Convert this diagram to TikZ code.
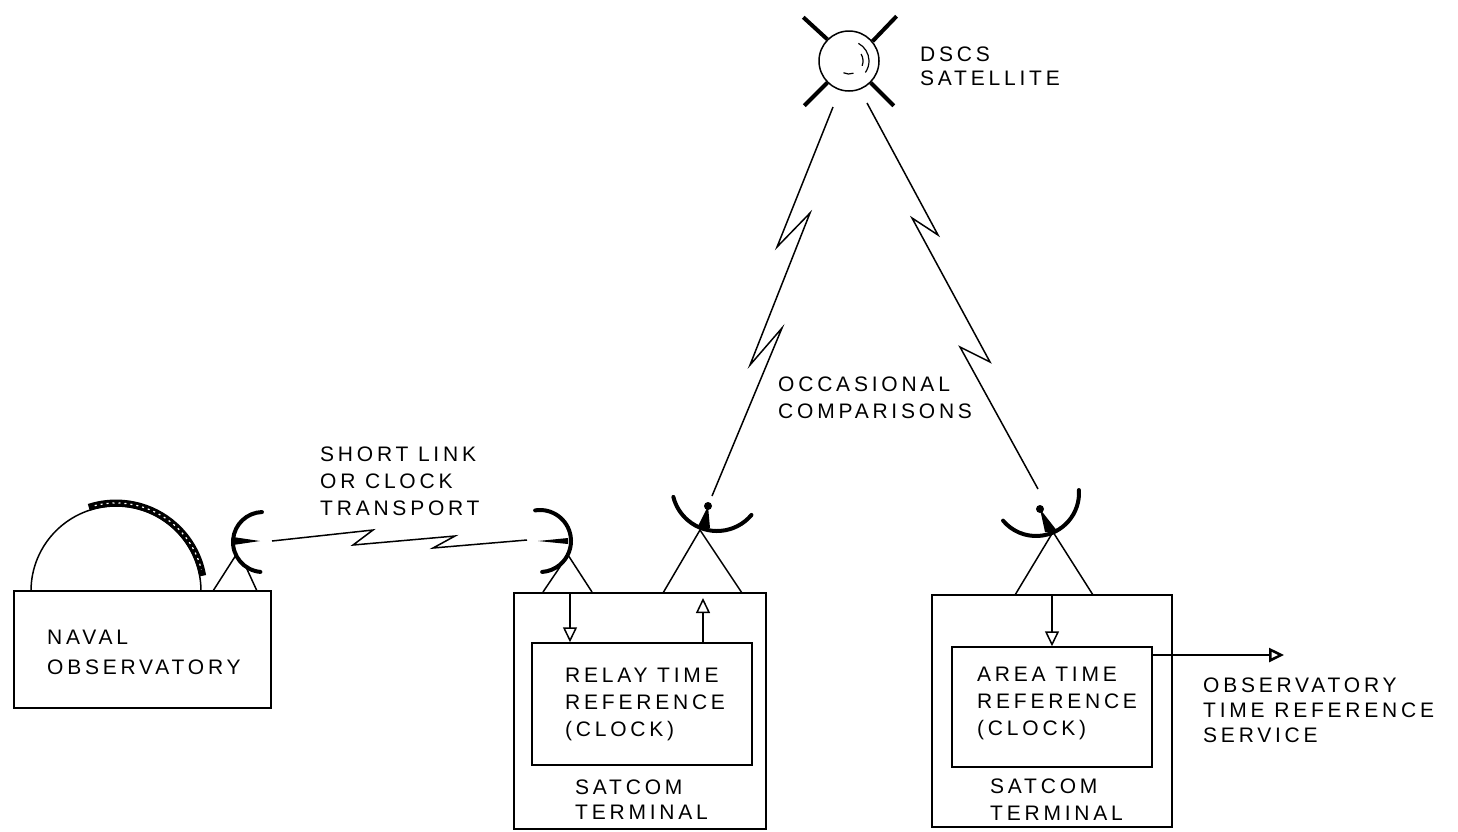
\documentclass[tikz,border=0pt]{standalone}
\usepackage{fontspec}
\newfontfamily\lettering[LetterSpace=18]{Liberation Sans}
\usetikzlibrary{arrows.meta,positioning,calc}
\tikzset{
  box/.style={draw, line width=1.5pt, inner sep=0pt},
  lbl/.style={font=\lettering\fontsize{21}{27}\selectfont, align=left, anchor=north west, inner sep=0pt},
  dish/.style={line width=4pt, line cap=round},
  leg/.style={line width=1.5pt},
  arm/.style={line width=4pt},
  beam/.style={line width=1.5pt, line join=miter},
  sig/.style={line width=1.5pt, -{Triangle[open,length=15pt,width=14pt]}},
}

\begin{document}
\begin{tikzpicture}[x=1pt, y=-1pt]
    \useasboundingbox (0,0) rectangle (1458,831);

    % boxes
    \node[box, minimum width=257, minimum height=117] (naval) at (142.5,649.5) {};
    \node[box, minimum width=252, minimum height=236] (relay) at (640,711) {};
    \node[box, minimum width=220, minimum height=122] (relayclk) at (642,704) {};
    \node[box, minimum width=240, minimum height=232] (area) at (1052,711) {};
    \node[box, minimum width=200, minimum height=120] (areaclk) at (1052,707) {};

    % satellite
    \node[draw, circle, line width=1.5pt, minimum size=60, inner sep=0pt] (sat) at (849,61) {};
    \draw[line width=1.2pt] (849,61) ++(-62:20) arc(-62:35:20);
    \draw[line width=1.2pt] (849,61) ++(-30:14) arc(-30:20:14);
    \draw[line width=1.2pt] (849,61) ++(70:13) arc(70:115:13);
    \draw[arm] (sat.135) -- ++(-24,-22);
    \draw[arm] (sat.40) -- ++(24,-25);
    \draw[arm] (sat.225) -- ++(-23,23);
    \draw[arm] (sat.315) -- ++(23,23);

    % observatory dome
    \draw[leg] (31,591) arc(180:360:85);
    \draw[line width=7pt] (116,591) ++(252:88) arc(252:350:88);
    \draw[white, line width=1.2pt, dash pattern=on 2pt off 4pt] (116,591) ++(256:88) arc(256:346:88);

    % antennas
    \coordinate (navfeed) at (260,541);
    \draw[dish] (263,542) ++(95:30) arc(95:268:30);
    \fill (navfeed) -- (233,537) -- (233,545) -- cycle;
    \draw[leg] (213,591) -- (236,555);
    \draw[leg] (257,591) -- (246,567);

    \coordinate (linkfeed) at (538,541);
    \draw[dish] (540,541) ++(-99:31) arc(-99:86:31);
    \fill (linkfeed) -- (568,538) -- (568,544) -- cycle;
    \draw[leg] (543,592) -- (568,555) -- (592,592);

    \coordinate (relayfeed) at (708,506);
    \draw[dish] (717,486) ++(40:45) arc(40:166:45);
    \fill (relayfeed) circle (4);
    \fill (relayfeed) -- (697,528) -- (710,528) -- cycle;
    \draw[leg] (663,593) -- (700,530) -- (742,593);

    \coordinate (areafeed) at (1040,509);
    \draw[dish] (1036,493) ++(-4:43) arc(-4:140:43);
    \fill (areafeed) circle (4);
    \fill (areafeed) -- (1045,532) -- (1058,532) -- cycle;
    \draw[leg] (1015,595) -- (1053,532) -- (1093,595);

    % radio links
    \coordinate (upL) at (833,107);
    \coordinate (upR) at (867,103);
    \draw[beam] (upL) -- (777,247) -- (810,213) -- (750,365) -- (782,328) -- ($(relayfeed)+(4,-10)$);
    \draw[beam] (upR) -- (938,235) -- (912,218) -- (990,362) -- (960,347) -- ($(areafeed)+(-2,-20)$);
    \draw[beam] ($(navfeed)+(12,0)$) -- (373,530) -- (353,545) -- (455,536) -- (433,548) -- ($(linkfeed)+(-11,-1)$);

    % signal paths
    \coordinate (rdn) at (570,593);
    \coordinate (rup) at (703,598);
    \coordinate (adn) at (1052,595);
    \coordinate (svc) at (1284,655);
    \draw[sig] (rdn) -- (rdn |- relayclk.north);
    \draw[sig] (rup |- relayclk.north) -- (rup);
    \draw[sig] (adn) -- (adn |- areaclk.north);
    \draw[sig, line width=2.5pt] (svc -| areaclk.east) -- (svc);

    % labels
    \node[lbl] (satlbl) at (920,47) {DSCS\\[-3pt]SATELLITE};
    \node[lbl] (cmplbl) at (778,377) {OCCASIONAL\\COMPARISONS};
    \node[lbl] (linklbl) at (320,447) {SHORT LINK\\OR CLOCK\\TRANSPORT};
    \node[lbl] (navallbl) at (47,630) {NAVAL\\[3pt]OBSERVATORY};
    \node[lbl] (relaylbl) at (565,668) {RELAY TIME\\REFERENCE\\(CLOCK)};
    \node[lbl] (relayterm) at (575,780) {SATCOM\\[-2pt]TERMINAL};
    \node[lbl] (arealbl) at (977,667) {AREA TIME\\REFERENCE\\(CLOCK)};
    \node[lbl] (areaterm) at (990,779) {SATCOM\\TERMINAL};
    \node[lbl] (svclbl) at (1203,678) {OBSERVATORY\\[-2pt]TIME REFERENCE\\[-2pt]SERVICE};
\end{tikzpicture}
\end{document}
